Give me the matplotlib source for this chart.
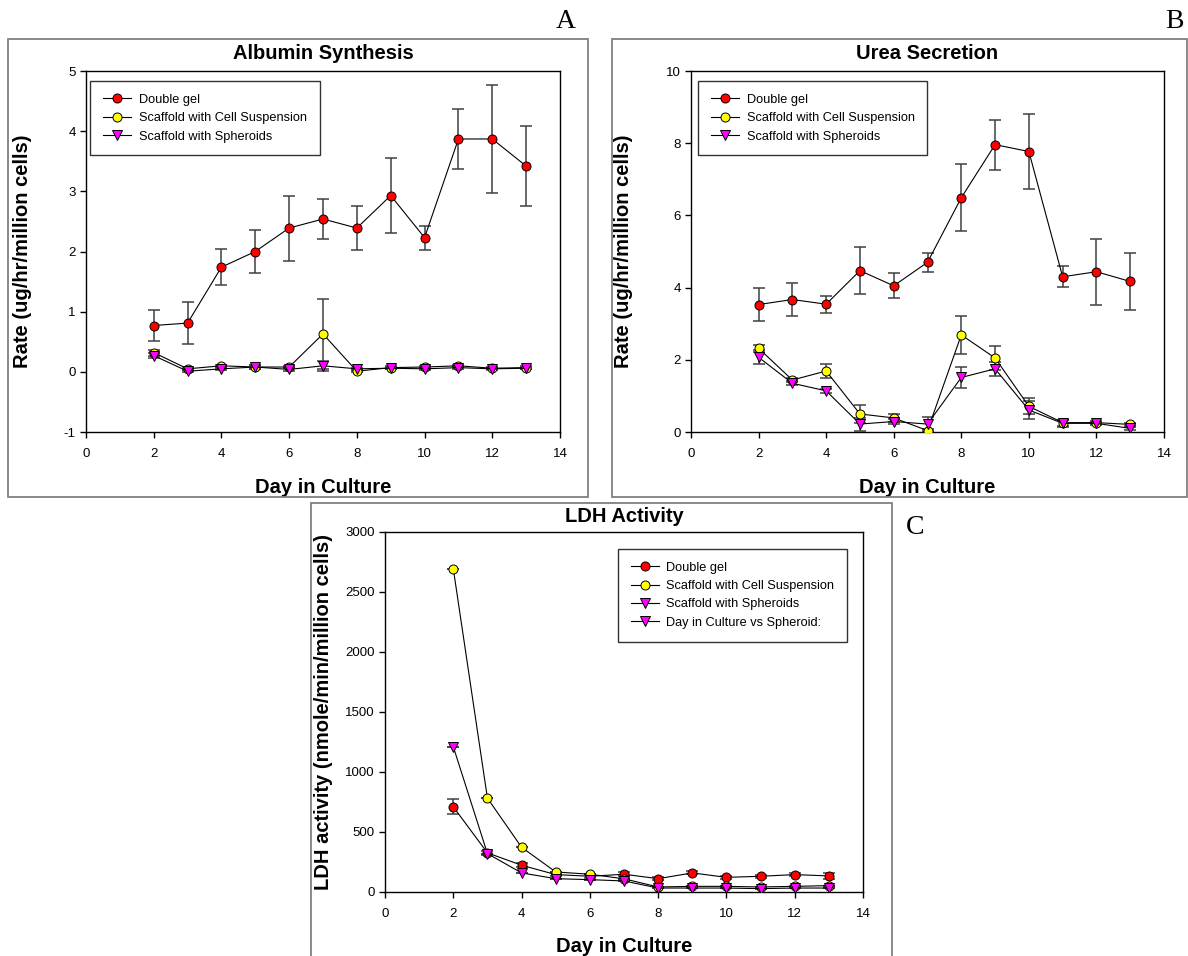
import matplotlib
matplotlib.use('Agg')
import matplotlib.pyplot as plt
from matplotlib.patches import Rectangle

plt.rcParams['font.family'] = ['Liberation Sans', 'DejaVu Sans']
plt.rcParams['axes.unicode_minus'] = False

days = [2, 3, 4, 5, 6, 7, 8, 9, 10, 11, 12, 13]
series_names = ['Double gel', 'Scaffold with Cell Suspension', 'Scaffold with Spheroids']

# A: albumin synthesis (ug/hr/million cells)
alb_gel = [0.77, 0.81, 1.74, 2.00, 2.39, 2.54, 2.39, 2.93, 2.23, 3.87, 3.87, 3.42]
alb_gel_err = [0.26, 0.35, 0.30, 0.35, 0.54, 0.34, 0.36, 0.63, 0.20, 0.50, 0.89, 0.67]
alb_susp = [0.32, 0.05, 0.10, 0.08, 0.08, 0.63, 0.01, 0.07, 0.08, 0.10, 0.06, 0.07]
alb_susp_err = [0.05, 0.02, 0.02, 0.03, 0.02, 0.58, 0.02, 0.02, 0.02, 0.02, 0.02, 0.02]
alb_sph = [0.27, 0.01, 0.05, 0.08, 0.04, 0.10, 0.05, 0.06, 0.05, 0.07, 0.05, 0.06]
alb_sph_err = [0.04, 0.02, 0.02, 0.04, 0.02, 0.08, 0.02, 0.02, 0.02, 0.02, 0.02, 0.02]

# B: urea secretion (ug/hr/million cells)
urea_gel = [3.53, 3.67, 3.54, 4.47, 4.05, 4.70, 6.49, 7.96, 7.77, 4.30, 4.44, 4.17]
urea_gel_err = [0.46, 0.47, 0.23, 0.66, 0.35, 0.27, 0.93, 0.69, 1.03, 0.29, 0.92, 0.80]
urea_susp = [2.32, 1.44, 1.69, 0.50, 0.39, 0.04, 2.69, 2.05, 0.71, 0.26, 0.26, 0.21]
urea_susp_err = [0.10, 0.05, 0.20, 0.26, 0.11, 0.05, 0.52, 0.34, 0.22, 0.08, 0.05, 0.05]
urea_sph = [2.07, 1.35, 1.14, 0.22, 0.29, 0.22, 1.51, 1.75, 0.61, 0.24, 0.24, 0.10]
urea_sph_err = [0.20, 0.05, 0.05, 0.18, 0.07, 0.19, 0.29, 0.19, 0.25, 0.10, 0.05, 0.05]

# C: LDH activity (nmole/min/million cells)
ldh_gel = [710, 326, 223, 145, 131, 148, 111, 159, 122, 131, 145, 134]
ldh_gel_err = [62, 15, 15, 12, 12, 18, 15, 12, 12, 12, 15, 25]
ldh_susp = [2694, 782, 373, 167, 148, 110, 42, 47, 47, 42, 47, 53]
ldh_susp_err = [0, 0, 0, 0, 0, 0, 0, 0, 0, 0, 0, 0]
ldh_sph = [1211, 320, 159, 111, 103, 92, 33, 33, 33, 28, 33, 33]
ldh_sph_err = [0, 0, 0, 0, 0, 0, 0, 0, 0, 0, 0, 0]

styles = [('o', '#ff0000'), ('o', '#ffff00'), ('v', '#ff00ff')]

W, H = 1188, 956
fig = plt.figure(figsize=(W / 100, H / 100), dpi=100)


def fx(px):
    return px / W


def fy(py):
    return 1 - py / H


def panel_box(x0, y0, x1, y1):
    fig.patches.append(Rectangle((fx(x0), fy(y1)), fx(x1 - x0), (y1 - y0) / H,
                                 transform=fig.transFigure, fill=False,
                                 edgecolor='#808080', linewidth=1.3))


def make_axes(left, top, right, bottom):
    return fig.add_axes([fx(left), fy(bottom), fx(right - left), (bottom - top) / H])


def draw(ax, data, yticks, ylim, title, ylabel, ylab_x, title_y, xlab_y):
    for (vals, errs), name, (mk, col) in zip(data, series_names, styles):
        ax.errorbar(days, vals, yerr=errs, fmt='none', ecolor='#404040',
                    elinewidth=1.1, capsize=4.5, capthick=1.1, zorder=2)
        ax.plot(days, vals, color='black', linewidth=0.8, marker=mk,
                markersize=6.5, markerfacecolor=col, markeredgecolor='black',
                markeredgewidth=0.7, label=name, zorder=3)
    ax.set_xlim(0, 14)
    ax.set_xticks(range(0, 15, 2))
    ax.set_ylim(*ylim)
    ax.set_yticks(yticks)
    ax.tick_params(direction='out', length=4.5, width=1, labelsize=9.5,
                   top=False, right=False)
    ax.tick_params(axis='x', pad=7)
    ax.tick_params(axis='y', pad=3)
    for sp in ax.spines.values():
        sp.set_linewidth(1)
    ax.text(0.5, title_y, title, transform=ax.transAxes, fontsize=14.5,
            fontweight='bold', ha='center', va='center')
    ax.set_ylabel(ylabel, fontsize=14.5, fontweight='bold', va='center')
    ax.yaxis.set_label_coords(ylab_x, 0.5)
    ax.set_xlabel('Day in Culture', fontsize=14.5, fontweight='bold', va='center')
    ax.xaxis.set_label_coords(0.5, xlab_y)
    return ax


def add_legend(ax, box):
    lg = ax.legend(loc='upper left', bbox_to_anchor=box,
                   frameon=True, fancybox=False, fontsize=9.2, handlelength=2.2,
                   handletextpad=0.6, borderpad=1.0, labelspacing=0.5,
                   borderaxespad=0)
    lg.get_frame().set_edgecolor('black')
    lg.get_frame().set_linewidth(1.0)
    return lg


# panel frames
panel_box(8, 39, 588, 497)
panel_box(612, 39, 1187, 497)
panel_box(311, 503, 892, 960)

# A
axA = make_axes(86, 71, 560, 432)
draw(axA, [(alb_gel, alb_gel_err), (alb_susp, alb_susp_err), (alb_sph, alb_sph_err)],
     range(-1, 6), (-1, 5), 'Albumin Synthesis', 'Rate (ug/hr/million cells)',
     -0.135, 1 + 18 / 361, -55 / 361)
add_legend(axA, (0.009, 0.972))

# B
axB = make_axes(691, 71, 1164, 432)
draw(axB, [(urea_gel, urea_gel_err), (urea_susp, urea_susp_err), (urea_sph, urea_sph_err)],
     range(0, 11, 2), (0, 10), 'Urea Secretion', 'Rate (ug/hr/million cells)',
     -0.142, 1 + 18 / 361, -55 / 361)
add_legend(axB, (0.015, 0.972))

# C
axC = make_axes(385, 532, 863, 892)
axC.plot([], [], color='black', linewidth=0.8, marker='v', markersize=6.5,
         markerfacecolor='#ff00ff', markeredgecolor='black',
         markeredgewidth=0.7, label='Day in Culture vs Spheroid:', zorder=0)
draw(axC, [(ldh_gel, ldh_gel_err), (ldh_susp, ldh_susp_err), (ldh_sph, ldh_sph_err)],
     range(0, 3001, 500), (0, 3000), 'LDH Activity',
     'LDH activity (nmole/min/million cells)', -0.128, 1 + 15 / 360, -54 / 360)
h, l = axC.get_legend_handles_labels()
order = [1, 2, 3, 0]
lgC = axC.legend([h[i] for i in order], [l[i] for i in order], loc='upper left',
                 bbox_to_anchor=(0.487, 0.953), frameon=True, fancybox=False,
                 fontsize=9.2, handlelength=2.2, handletextpad=0.6, borderpad=1.0,
                 labelspacing=0.5, borderaxespad=0)
lgC.get_frame().set_edgecolor('black')
lgC.get_frame().set_linewidth(1.0)

# panel letters
for letter, x, y in [('A', 566, 21), ('B', 1174, 21), ('C', 915, 527)]:
    fig.text(fx(x), fy(y), letter, fontsize=20, family='Liberation Serif',
             ha='center', va='center')

fig.savefig('out.png', dpi=100)
